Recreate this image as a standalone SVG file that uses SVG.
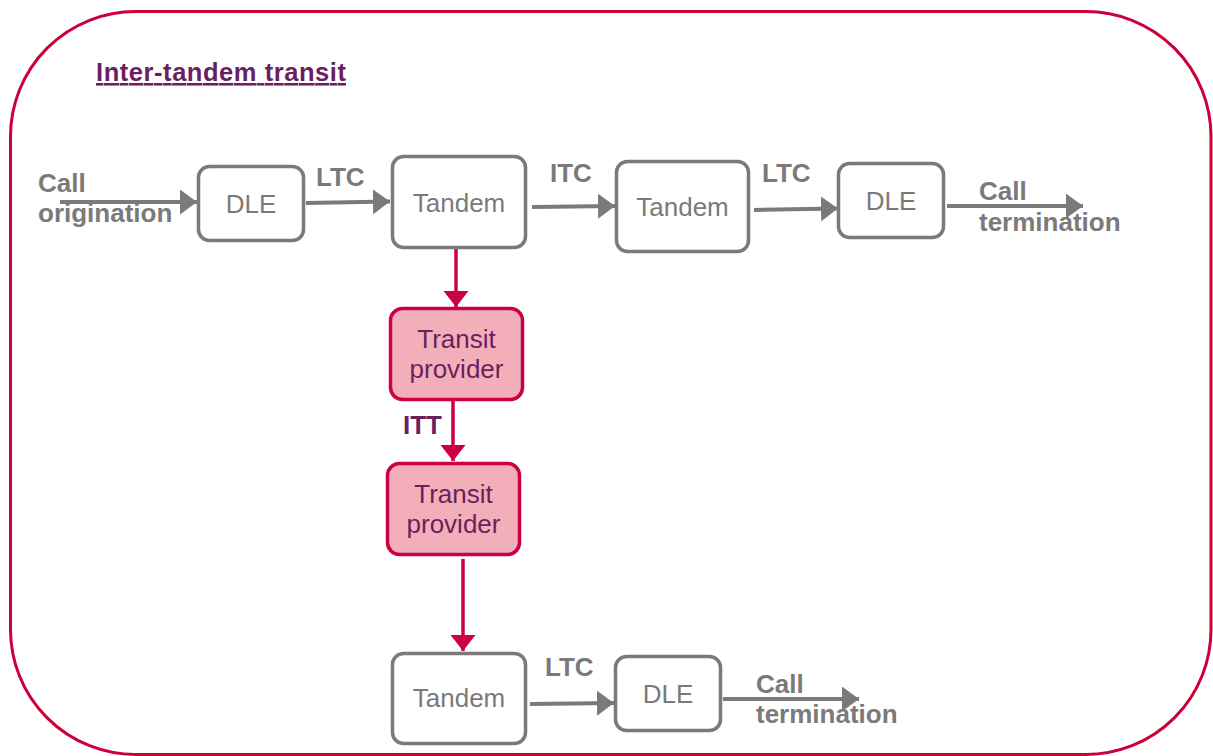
<svg xmlns="http://www.w3.org/2000/svg" width="1213" height="756" viewBox="0 0 1213 756">
<style>
.frame{fill:none;stroke:#CC0038;stroke-width:3}
.gbox{fill:#ffffff;stroke:#7a7a7a;stroke-width:3.5}
.rbox{fill:#F2AFBA;stroke:#CC0044;stroke-width:3.5}
.gline{stroke:#7a7a7a;stroke-width:4;fill:none}
.rline{stroke:#CC0044;stroke-width:3.5;fill:none}
.gt{font-family:"Liberation Sans",Arial,sans-serif;font-size:26px;fill:#7a7a7a;text-anchor:middle}
.pt{font-family:"Liberation Sans",Arial,sans-serif;font-size:26px;fill:#6B1F5F;text-anchor:middle}
.gl{font-family:"Liberation Sans",Arial,sans-serif;font-size:26px;font-weight:bold;fill:#7a7a7a}
.pl{font-family:"Liberation Sans",Arial,sans-serif;font-size:26px;font-weight:bold;fill:#6B1F5F}
</style>
<defs>
<marker id="ag" markerUnits="userSpaceOnUse" markerWidth="18" markerHeight="26" refX="17" refY="12.5" orient="auto">
<path d="M0,0 L17,12.5 L0,25 z" fill="#7a7a7a"/>
</marker>
<marker id="ar" markerUnits="userSpaceOnUse" markerWidth="18" markerHeight="26" refX="16" refY="12.5" orient="auto">
<path d="M0,0 L16,12.5 L0,25 z" fill="#CC0044"/>
</marker>
</defs>
<rect width="1213" height="756" fill="#ffffff"/>
<rect class="frame" x="10.5" y="11.5" width="1200.5" height="743" rx="125" ry="125"/>
<text x="96" y="81" font-family="Liberation Sans, Arial, sans-serif" font-size="25.5" font-weight="bold" fill="#6B1F5F" text-decoration="underline" textLength="250" lengthAdjust="spacing">Inter-tandem transit</text>

<g id="connectors">
<line class="gline" x1="60" y1="202" x2="197" y2="202" marker-end="url(#ag)"/>
<line class="gline" x1="306" y1="203" x2="390" y2="201.5" marker-end="url(#ag)"/>
<line class="gline" x1="532" y1="207" x2="615" y2="206" marker-end="url(#ag)"/>
<line class="gline" x1="754" y1="210" x2="838" y2="208.5" marker-end="url(#ag)"/>
<line class="gline" x1="947" y1="206" x2="1083" y2="206" marker-end="url(#ag)"/>
<line class="rline" x1="456" y1="249" x2="456" y2="307" marker-end="url(#ar)"/>
<line class="rline" x1="453" y1="401" x2="453" y2="461" marker-end="url(#ar)"/>
<line class="rline" x1="463" y1="559" x2="463" y2="651" marker-end="url(#ar)"/>
<line class="gline" x1="530" y1="704" x2="614" y2="703" marker-end="url(#ag)"/>
<line class="gline" x1="723" y1="699" x2="859" y2="699" marker-end="url(#ag)"/>
<text class="gl" x="38" y="192">Call</text>
<text class="gl" x="38" y="222">origination</text>
<text class="gl" x="316" y="186">LTC</text>
<text class="gl" x="550" y="182">ITC</text>
<text class="gl" x="762" y="182">LTC</text>
<text class="gl" x="979" y="200">Call</text>
<text class="gl" x="979" y="231">termination</text>
<text class="pl" x="403" y="434">ITT</text>
<text class="gl" x="545" y="676">LTC</text>
<text class="gl" x="756" y="693">Call</text>
<text class="gl" x="756" y="723">termination</text>
</g>

<g id="dle1">
<rect class="gbox" x="198.5" y="166.5" width="105" height="74" rx="11"/>
<text class="gt" x="251" y="213">DLE</text>
</g>
<g id="tandem1">
<rect class="gbox" x="392.5" y="156.5" width="133" height="91" rx="11"/>
<text class="gt" x="459" y="212">Tandem</text>
</g>
<g id="tandem2">
<rect class="gbox" x="616.5" y="161.5" width="132" height="90" rx="11"/>
<text class="gt" x="682.5" y="216">Tandem</text>
</g>
<g id="dle2">
<rect class="gbox" x="838.5" y="163.5" width="105" height="74" rx="11"/>
<text class="gt" x="891" y="210">DLE</text>
</g>
<g id="transit1">
<rect class="rbox" x="390.5" y="308.5" width="132" height="91" rx="12"/>
<text class="pt" x="456.5" y="348">Transit</text>
<text class="pt" x="456.5" y="378">provider</text>
</g>
<g id="transit2">
<rect class="rbox" x="387.5" y="463.5" width="132" height="91" rx="12"/>
<text class="pt" x="453.5" y="503">Transit</text>
<text class="pt" x="453.5" y="533">provider</text>
</g>
<g id="tandem3">
<rect class="gbox" x="392.5" y="653.5" width="133" height="90" rx="11"/>
<text class="gt" x="459" y="707">Tandem</text>
</g>
<g id="dle3">
<rect class="gbox" x="615.5" y="656.5" width="105" height="74" rx="11"/>
<text class="gt" x="668" y="703">DLE</text>
</g>
</svg>
